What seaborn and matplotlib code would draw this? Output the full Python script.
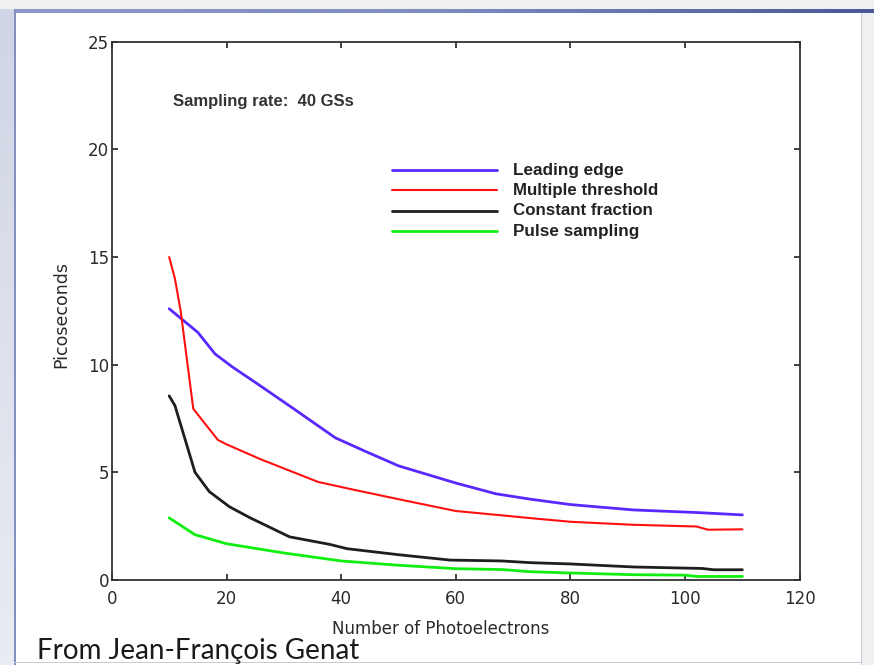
import numpy as np
import pandas as pd
import matplotlib
matplotlib.use("Agg")
import matplotlib.pyplot as plt
from matplotlib.patches import Rectangle
import seaborn as sns

# Timing resolution vs. number of photoelectrons, per method
le_x = [10, 15, 18, 21, 26, 32, 39, 44, 50, 55, 60, 67, 73, 80, 91, 102, 110]
le_y = [12.6, 11.5, 10.5, 9.9, 9.0, 7.9, 6.6, 6.0, 5.3, 4.9, 4.5, 4.0, 3.75, 3.5, 3.25, 3.13, 3.02]

mt_x = [10, 11, 12, 14.2, 18.5, 20, 26, 36, 42, 50, 60, 68, 73, 80, 91, 102, 104, 110]
mt_y = [15.0, 14.0, 12.5, 7.95, 6.5, 6.3, 5.6, 4.55, 4.2, 3.75, 3.2, 3.0, 2.87, 2.7, 2.56, 2.48, 2.33, 2.35]

cf_x = [10, 11, 14.5, 17, 20.5, 24, 31, 38, 41, 50, 59, 68, 73, 80, 91, 103, 105, 110]
cf_y = [8.55, 8.1, 5.0, 4.1, 3.4, 2.9, 2.0, 1.65, 1.45, 1.17, 0.92, 0.88, 0.8, 0.74, 0.6, 0.53, 0.47, 0.47]

ps_x = [10, 14.5, 20, 30, 40, 50, 60, 68, 73, 80, 91, 100, 102, 110]
ps_y = [2.88, 2.1, 1.68, 1.25, 0.88, 0.68, 0.52, 0.48, 0.38, 0.32, 0.24, 0.22, 0.16, 0.16]

methods = ["Leading edge", "Multiple threshold", "Constant fraction", "Pulse sampling"]
colors = ["#5a28ff", "#ff1010", "#1e1e1e", "#10ee10"]
widths = [2.0, 1.5, 2.0, 2.0]

xs = [le_x, mt_x, cf_x, ps_x]
ys = [le_y, mt_y, cf_y, ps_y]
df = pd.concat(
    [pd.DataFrame({"electrons": x, "ps": y, "method": m}) for x, y, m in zip(xs, ys, methods)],
    ignore_index=True,
)

sns.set_style("white")
plt.rcParams["font.family"] = ["DejaVu Sans"]

fig = plt.figure(figsize=(8.74, 6.65), dpi=100)
fig.patch.set_facecolor("white")

# slide frame: gradient side strip, top rule, thin borders
bg = fig.add_axes([0, 0, 1, 1], zorder=-5)
bg.set_xlim(0, 874)
bg.set_ylim(665, 0)
bg.axis("off")
strip = np.linspace(0, 1, 64)[:, None]
bg.imshow(strip, cmap=matplotlib.colors.LinearSegmentedColormap.from_list("s", ["#cfd5e4", "#e9ecf2"]),
          extent=[0, 14, 665, 0], aspect="auto")
bg.add_patch(Rectangle((0, 0), 874, 9, color="#eef0f2", lw=0))
top = np.linspace(0, 1, 256)[None, :]
bg.imshow(top, cmap=matplotlib.colors.LinearSegmentedColormap.from_list("t", ["#8d99c8", "#7f8cc0", "#4a5898"]),
          extent=[14, 874, 13, 9], aspect="auto")
bg.add_patch(Rectangle((14, 9), 1.5, 656, color="#8390c0", lw=0))
bg.add_patch(Rectangle((862, 13), 12, 652, color="#eef0f2", lw=0))
bg.add_patch(Rectangle((861, 13), 1, 652, color="#c8ccd4", lw=0))
bg.add_patch(Rectangle((14, 662), 848, 1, color="#c8ccd4", lw=0))

ax = fig.add_axes([0.128, 0.128, 0.787, 0.809])
palette = dict(zip(methods, colors))
for m, lw in zip(methods, widths):
    sns.lineplot(data=df[df["method"] == m], x="electrons", y="ps", color=palette[m],
                 lw=lw, ax=ax, label=m, sort=False, estimator=None)

ax.set_xlim(0, 120)
ax.set_ylim(0, 25)
ax.set_xticks(np.arange(0, 121, 20))
ax.set_yticks(np.arange(0, 26, 5))
ax.tick_params(direction="in", length=4, width=1.2, top=True, right=True,
               bottom=True, left=True, labelsize=12, labelcolor="#2a2a2a", color="#222222")
ax.tick_params(axis="x", pad=7)
ax.tick_params(axis="y", pad=2)
for s in ax.spines.values():
    s.set_color("#333333")
    s.set_linewidth(1.3)

ax.set_xlabel("Number of Photoelectrons", fontsize=12, color="#2a2a2a")
ax.xaxis.set_label_coords(0.478, -0.074)
ax.set_ylabel("Picoseconds", fontsize=12.5, color="#2a2a2a")
ax.yaxis.set_label_coords(-0.061, 0.4926)

ax.text(0.089, 0.89, "Sampling rate:  40 GSs", transform=ax.transAxes,
        fontsize=12, fontweight="bold", family=["Liberation Sans", "DejaVu Sans"],
        color="#333333", va="center", ha="left")

leg = ax.legend(loc="upper left", bbox_to_anchor=(0.407, 0.775), frameon=False,
                handlelength=7.6, handletextpad=1.15, labelspacing=0.38,
                borderaxespad=0, borderpad=0, fontsize=10)
for t, size in zip(leg.get_texts(), [12.3, 12.2, 12.2, 12.3]):
    t.set_fontweight("bold")
    t.set_fontsize(size)
    t.set_family(["Liberation Sans", "DejaVu Sans"])
    t.set_color("#222222")

fig.text(37 / 874, 1 - 659 / 665, "From Jean-François Genat", fontsize=20,
         family=["Lato", "DejaVu Sans"], color="#1a1a1a", va="baseline", ha="left")

fig.savefig("out.png", dpi=100, facecolor=fig.get_facecolor())
